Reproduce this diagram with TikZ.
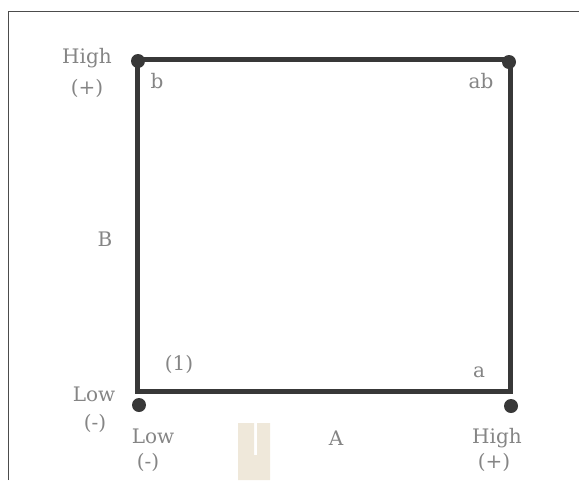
\documentclass[tikz,border=0pt]{standalone}
\usepackage{fontspec}
\setmainfont{DejaVu Serif}
\begin{document}
\begin{tikzpicture}[x=1pt,y=-1pt,
  lbl/.style={text=black!48, font=\fontsize{20}{22}\selectfont, inner sep=0pt, anchor=base},
  dot/.style={circle, fill=black!78, minimum size=14pt, inner sep=0pt},
  sq/.style={draw=black!78, line width=5pt},
  frame/.style={draw=black!70, line width=1pt}]
\useasboundingbox (0,0) rectangle (579,480);
% frame
\draw[frame] (8,480) -- (8,11) -- (579,11);
% square corners
\coordinate (tl) at (137,59);
\coordinate (tr) at (510,59);
\coordinate (br) at (510,391);
\coordinate (bl) at (137,391);
\draw[sq] (tl) -- (tr) -- (br) -- (bl) -- cycle;
% dots
\node[dot] (d1) at (138,61) {};
\node[dot] (d2) at (509,62) {};
\node[dot] (d3) at (139,405) {};
\node[dot] (d4) at (511,406) {};
% beige mark
\fill[fill={rgb,255:red,239;green,232;blue,218}] (238,423) -- (254,423) -- (254,455) -- (257,455) -- (257,423) -- (270,423) -- (270,480) -- (238,480) -- cycle;
% labels
\node[lbl] (h1) at (87,63) {High};
\node[lbl] (p1) at (87,94) {(+)};
\node[lbl] (b) at (157,88) {b};
\node[lbl] (ab) at (481,88) {ab};
\node[lbl] (B) at (105,246) {B};
\node[lbl] (one) at (179,370) {(1)};
\node[lbl] (a) at (479,377) {a};
\node[lbl] (l1) at (94,401) {Low};
\node[lbl] (m1) at (95,429) {(-)};
\node[lbl] (l2) at (153,443) {Low};
\node[lbl] (m2) at (148,468) {(-)};
\node[lbl] (A) at (336,445) {A};
\node[lbl] (h2) at (497,443) {High};
\node[lbl] (p2) at (494,468) {(+)};
\end{tikzpicture}
\end{document}
